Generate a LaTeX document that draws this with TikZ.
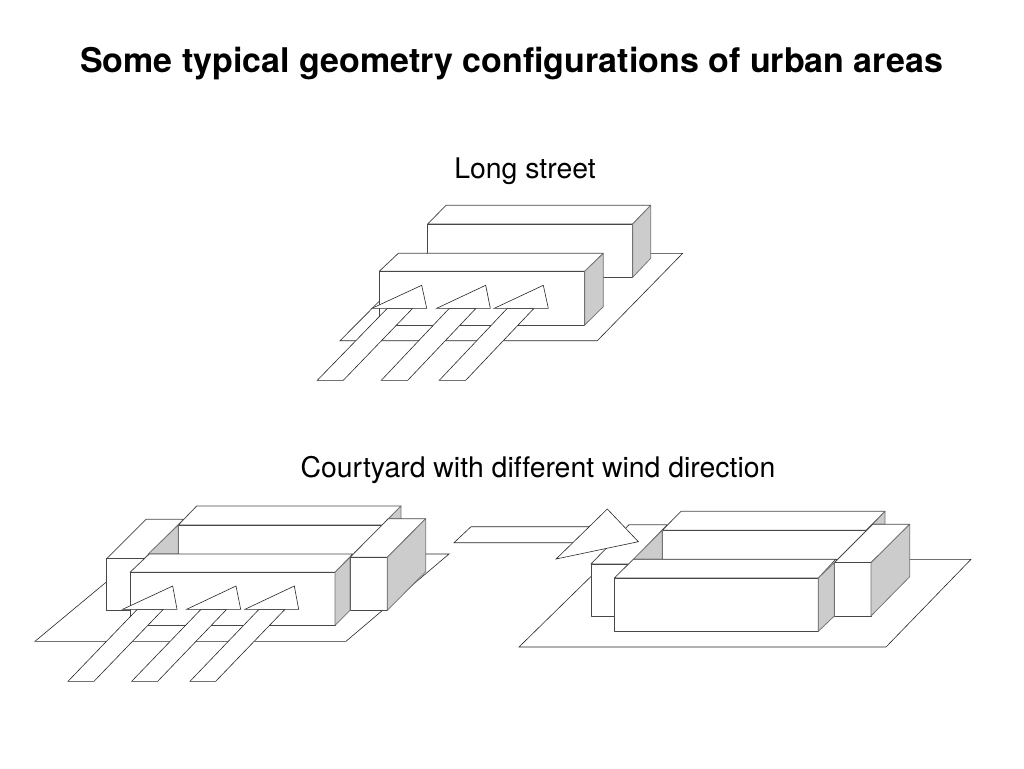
\documentclass[tikz,border=0pt]{standalone}
\usepackage{fontspec}
\setmainfont{TeX Gyre Heros}[Ligatures=NoCommon]
\tikzset{
    wall/.style={draw=black!72, fill=white, line width=0.75pt, line join=round},
    shade/.style={draw=black!55, fill=black!20, line width=0.75pt, line join=round},
    ground/.style={draw=black!85, fill=white, line width=0.6pt},
    wind/.style={draw=black!85, fill=white, line width=0.6pt, line join=miter},
    heading/.style={font=\fontsize{34}{40}\selectfont\bfseries},
    caption/.style={font=\fontsize{28.4}{34}\selectfont},
}
\begin{document}
\begin{tikzpicture}[x=1pt, y=-1pt]
    \useasboundingbox (0,0) rectangle (1024,768);

    % Texts
    \node[heading] (title) at (511.5,63.5) {Some typical geometry configurations of urban areas};
    \node[caption] (longCap) at (525,171) {Long street};
    \node[caption] (courtCap) at (538,470) {Courtyard with different wind direction};

    % Long street: ground
    \draw[ground] (340,340.7) -- (597.3,340.7) -- (682.7,253.3) -- (427,253.3) -- cycle;

    % Long street: back building
    \draw[wall] (427.7,224) -- (446,205.3) -- (650.7,205.3) -- (632.7,224) -- cycle;
    \draw[wall] (427.7,224) rectangle (632.7,277.3);
    \draw[shade] (632.7,224) -- (650.7,205.3) -- (650.7,258.3) -- (632.7,277.3) -- cycle;

    % Long street: front building
    \draw[wall] (379.3,271.3) -- (398.3,253.3) -- (603.3,253.3) -- (584.7,271.3) -- cycle;
    \draw[wall] (379.3,271.3) rectangle (584.7,325);
    \draw[shade] (584.7,271.3) -- (603.3,253.3) -- (603.3,306.7) -- (584.7,325) -- cycle;

    % Long street: wind arrows
    \draw[wind] (317.3,380.3) -- (343.3,380.3) -- (412.7,308.3) -- (387.3,308.3) -- cycle;
    \draw[wind] (372,308.3) -- (421.7,285.3) -- (426.7,308.3) -- cycle;
    \draw[wind] (381.3,380.3) -- (407.7,380.3) -- (476,308.3) -- (449.3,308.3) -- cycle;
    \draw[wind] (436.7,308.3) -- (485.7,285.3) -- (490.3,308.3) -- cycle;
    \draw[wind] (439.3,380.3) -- (465.7,380.3) -- (534,308.3) -- (507.3,308.3) -- cycle;
    \draw[wind] (494.3,308.3) -- (543.3,285.3) -- (548.3,308.3) -- cycle;

    % Courtyard left: ground
    \draw[ground] (35,641.3) -- (346,641.3) -- (449,554) -- (140,554) -- cycle;

    % Courtyard left: back building
    \draw[wall] (178.3,525) -- (196.7,506) -- (401,506) -- (382.3,525) -- cycle;
    \draw[shade] (401,506) -- (401,519) -- (388.3,519) -- cycle;
    \draw[wall] (178.3,525) rectangle (382.3,554);

    % Courtyard left: left block
    \draw[wall] (106.7,558.7) -- (146,519.3) -- (183.5,519.3) -- (144.3,558.7) -- cycle;
    \draw[wall] (106.7,558.7) rectangle (144.3,610.7);
    \draw[shade] (178.3,525) -- (178.3,554) -- (148.3,554) -- cycle;

    % Courtyard left: right block
    \draw[wall] (350,557.3) -- (388.3,518.7) -- (425.7,518.7) -- (387.3,557.3) -- cycle;
    \draw[wall] (350,557.3) rectangle (387.3,610.3);
    \draw[shade] (387.3,557.3) -- (425.7,518.7) -- (425.7,571.7) -- (387.3,610.3) -- cycle;

    % Courtyard left: front building
    \draw[wall] (130,572.3) -- (149.3,554) -- (352.7,554) -- (335,572.3) -- cycle;
    \draw[wall] (130,572.3) rectangle (335,625.3);
    \draw[shade] (335,572.3) -- (350,557.3) -- (350,610.3) -- (335,625.3) -- cycle;

    % Courtyard left: wind arrows
    \draw[wind] (68,681.3) -- (94,681.3) -- (163.3,609.3) -- (137.3,609.3) -- cycle;
    \draw[wind] (122.7,609.3) -- (172.7,586) -- (177,609.3) -- cycle;
    \draw[wind] (131.7,681.3) -- (157.7,681.3) -- (226.7,609.3) -- (201,609.3) -- cycle;
    \draw[wind] (186.7,609.3) -- (236,586) -- (240.7,609.3) -- cycle;
    \draw[wind] (190,681.3) -- (215.7,681.3) -- (285,609.3) -- (259,609.3) -- cycle;
    \draw[wind] (245,609.3) -- (294.3,586) -- (298.7,609.3) -- cycle;

    % Courtyard right: ground
    \draw[ground] (519,647) -- (886,647) -- (971,559.3) -- (608.5,559.3) -- cycle;

    % Courtyard right: back building
    \draw[wall] (662.3,530.3) -- (681,511.3) -- (885,511.3) -- (866.2,530.3) -- cycle;
    \draw[shade] (885,511.3) -- (885,524.3) -- (872.7,524.3) -- cycle;
    \draw[wall] (662.3,530.3) rectangle (866.2,559.3);

    % Courtyard right: left block
    \draw[wall] (591,564) -- (629,524.7) -- (667.3,524.7) -- (629.3,564) -- cycle;
    \draw[wall] (591,564) rectangle (629.3,616.3);
    \draw[shade] (662.3,530.3) -- (662.3,559.3) -- (633.3,559.3) -- cycle;

    % Courtyard right: right block
    \draw[wall] (834.3,562.7) -- (872.7,524.3) -- (909.7,524.3) -- (871,562.7) -- cycle;
    \draw[wall] (834.3,562.7) rectangle (871,616);
    \draw[shade] (871,562.7) -- (909.7,524.3) -- (909.7,576.7) -- (871,616) -- cycle;

    % Courtyard right: front building
    \draw[wall] (614.3,578) -- (633.3,559.3) -- (835.7,559.3) -- (818.3,578) -- cycle;
    \draw[wall] (614.3,578) rectangle (818.3,631.3);
    \draw[shade] (818.3,578) -- (834.3,562.7) -- (834.3,616) -- (818.3,631.3) -- cycle;

    % Courtyard right: wind arrow
    \draw[wind] (454,542.7) -- (471,526.7) -- (592,526.7) -- (590,542.7) -- cycle;
    \draw[wind] (607.3,509) -- (638.3,541.7) -- (556.1,559) -- cycle;
\end{tikzpicture}
\end{document}
